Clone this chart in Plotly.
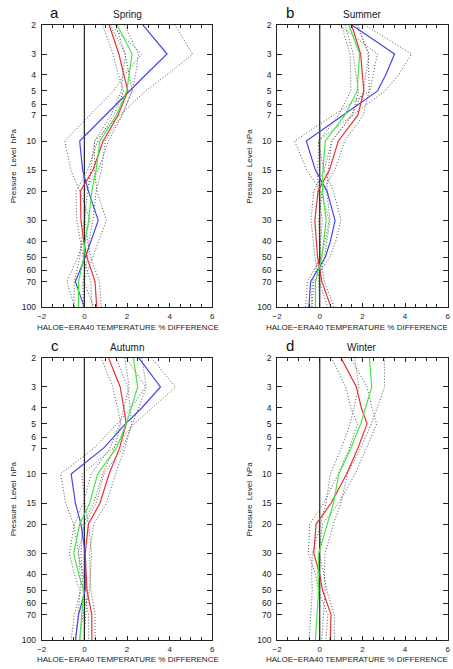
import plotly.graph_objects as go

levels = [2, 3, 4, 5, 7, 10, 15, 20, 30, 40, 50, 70, 100]
x_ticks = [-2, 0, 2, 4, 6]
y_ticks = [2, 3, 4, 5, 6, 7, 10, 15, 20, 30, 40, 50, 60, 70, 100]

# Spring
spring_blue = [2.73, 3.88, 2.88, 2.12, 0.95, -0.22, -0.08, 0.19, 0.65, 0.30, 0.04, -0.42, 0.00]
spring_red = [1.16, 1.62, 1.85, 2.04, 1.58, 0.88, 0.40, -0.19, -0.16, -0.03, 0.12, 0.50, 0.58]
spring_green = [1.53, 2.24, 2.10, 1.99, 1.50, 0.73, 0.55, 0.35, 0.20, 0.04, -0.03, -0.27, -0.27]
spring_blue_sd = [1.5, 1.2, 1.0, 0.75, 0.7, 0.7, 0.55, 0.4, 0.38, 0.35, 0.35, 0.4, 0.45]
spring_red_sd = [0.3, 0.28, 0.25, 0.2, 0.2, 0.25, 0.25, 0.2, 0.2, 0.18, 0.18, 0.2, 0.22]
spring_green_sd = [0.35, 0.3, 0.3, 0.25, 0.25, 0.25, 0.25, 0.2, 0.2, 0.18, 0.18, 0.2, 0.22]

# Summer
summer_blue = [1.49, 3.51, 3.10, 2.71, 1.09, -0.63, -0.20, 0.34, 0.72, 0.50, 0.26, -0.43, -0.51]
summer_red = [1.49, 1.92, 2.00, 2.07, 1.79, 0.87, 0.45, -0.08, -0.23, -0.15, -0.10, 0.10, 0.53]
summer_green = [1.36, 1.87, 1.80, 1.76, 1.18, 0.26, 0.15, 0.13, 0.30, 0.20, 0.10, -0.20, -0.20]
summer_blue_sd = [0.6, 0.8, 0.6, 0.35, 0.45, 0.55, 0.4, 0.3, 0.28, 0.25, 0.2, 0.15, 0.15]
summer_red_sd = [0.3, 0.35, 0.3, 0.25, 0.25, 0.3, 0.25, 0.2, 0.18, 0.15, 0.12, 0.12, 0.15]
summer_green_sd = [0.35, 0.45, 0.35, 0.3, 0.3, 0.3, 0.25, 0.2, 0.18, 0.15, 0.12, 0.15, 0.2]

# Autumn
autumn_blue = [2.54, 3.57, 2.70, 1.93, 0.90, -0.62, -0.42, -0.16, 0.04, 0.04, 0.04, -0.27, -0.42]
autumn_red = [1.13, 1.68, 1.85, 1.96, 1.65, 1.16, 0.73, 0.19, 0.04, 0.08, 0.12, 0.35, 0.35]
autumn_green = [2.30, 2.50, 2.20, 1.96, 1.50, 0.62, 0.25, -0.22, -0.50, -0.27, -0.03, -0.11, -0.22]
autumn_blue_sd = [0.6, 0.7, 0.5, 0.4, 0.45, 0.5, 0.45, 0.35, 0.3, 0.25, 0.2, 0.2, 0.2]
autumn_red_sd = [0.35, 0.35, 0.3, 0.25, 0.25, 0.3, 0.3, 0.25, 0.2, 0.18, 0.18, 0.15, 0.15]
autumn_green_sd = [0.4, 0.4, 0.35, 0.3, 0.3, 0.3, 0.3, 0.25, 0.2, 0.2, 0.18, 0.18, 0.2]

# Winter
winter_red = [0.99, 1.72, 1.95, 2.22, 1.79, 1.26, 0.53, -0.17, -0.28, 0.00, 0.13, 0.53, 0.49]
winter_green = [2.33, 2.44, 2.15, 1.92, 1.46, 0.90, 0.64, 0.34, -0.05, -0.08, -0.05, -0.13, -0.20]
winter_red_sd = [0.45, 0.5, 0.5, 0.45, 0.4, 0.4, 0.35, 0.3, 0.25, 0.2, 0.2, 0.15, 0.2]
winter_green_sd = [0.7, 0.6, 0.55, 0.5, 0.45, 0.4, 0.35, 0.3, 0.3, 0.3, 0.3, 0.3, 0.3]

BLUE = "#4646e6"
RED = "#e63232"
GREEN = "#46e646"
DOT = "#555555"

panels = [
    dict(name="Spring", letter="a", series=[(spring_blue, spring_blue_sd, BLUE), (spring_red, spring_red_sd, RED), (spring_green, spring_green_sd, GREEN)]),
    dict(name="Summer", letter="b", series=[(summer_blue, summer_blue_sd, BLUE), (summer_red, summer_red_sd, RED), (summer_green, summer_green_sd, GREEN)]),
    dict(name="Autumn", letter="c", series=[(autumn_blue, autumn_blue_sd, BLUE), (autumn_red, autumn_red_sd, RED), (autumn_green, autumn_green_sd, GREEN)]),
    dict(name="Winter", letter="d", series=[(winter_red, winter_red_sd, RED), (winter_green, winter_green_sd, GREEN)]),
]

W, H = 453, 669
# pixel boxes: (left, right, top, bottom)
boxes = [(37.4, 211.0, 20, 307), (277.0, 450.6, 20, 307), (37.4, 211.0, 358, 645), (277.0, 450.6, 358, 645)]

FONT = "Liberation Sans"
fig = go.Figure()
annotations = []
layout = {}

for i, (p, box) in enumerate(zip(panels, boxes)):
    n = i + 1
    xa = "x" if n == 1 else f"x{n}"
    ya = "y" if n == 1 else f"y{n}"
    L, R, T, B = box
    # dotted envelopes
    for vals, sd, col in p["series"]:
        for sgn in (-1, 1):
            fig.add_trace(go.Scatter(x=[v + sgn * s for v, s in zip(vals, sd)], y=levels, mode="lines",
                                     line=dict(color=DOT, width=1, dash="1px,2px"), xaxis=xa, yaxis=ya,
                                     showlegend=False, hoverinfo="skip"))
    # zero line
    fig.add_trace(go.Scatter(x=[0, 0], y=[levels[0], levels[-1]], mode="lines",
                             line=dict(color="#222222", width=1.2), xaxis=xa, yaxis=ya,
                             showlegend=False, hoverinfo="skip"))
    for vals, sd, col in p["series"]:
        fig.add_trace(go.Scatter(x=vals, y=levels, mode="lines", line=dict(color=col, width=1.2),
                                 xaxis=xa, yaxis=ya, showlegend=False))

    axis_common = dict(showline=True, linecolor="#222222", linewidth=1, mirror="allticks",
                       ticks="inside", tickcolor="#222222", showgrid=False, zeroline=False,
                       tickfont=dict(family=FONT, size=8.5, color="#222222"))
    layout["xaxis" if n == 1 else f"xaxis{n}"] = dict(
        axis_common, domain=[L / W, R / W], anchor=ya, range=[-2, 6], tickvals=x_ticks,
        ticklen=4, ticklabelstandoff=1, tickfont=dict(family=FONT, size=8, color="#222222"),
        minor=dict(dtick=0.5, ticks="inside", ticklen=3, tickcolor="#222222"))
    layout["yaxis" if n == 1 else f"yaxis{n}"] = dict(
        axis_common, domain=[1 - B / H, 1 - T / H], anchor=xa, type="log",
        range=[2, 0.30103], tickvals=y_ticks, ticktext=[str(v) for v in y_ticks],
        ticklen=5, ticklabelstandoff=3)

    cx = (L + R) / 2
    annotations.append(dict(text=p["name"], x=cx / W, y=1 - (T - 10) / H, xref="paper", yref="paper",
                            showarrow=False, xanchor="center", yanchor="middle",
                            font=dict(family=FONT, size=10, color="#222222")))
    annotations.append(dict(text=p["letter"], x=(L + 13) / W, y=1 - (T - 12) / H, xref="paper", yref="paper",
                            showarrow=False, xanchor="center", yanchor="middle",
                            font=dict(family=FONT, size=15, color="#111111")))
    if n % 2 == 1:
        tx, xanc = (L - 6) / W, "left"
    else:
        tx, xanc = 452 / W, "right"
    ty = B + 20 if n <= 2 else B + 19
    annotations.append(dict(text="HALOE\u2212ERA40 TEMPERATURE % DIFFERENCE", x=tx,
                            y=1 - ty / H, xref="paper", yref="paper", showarrow=False,
                            xanchor=xanc, yanchor="middle", borderpad=0,
                            font=dict(family=FONT, size=8, color="#222222")))
    annotations.append(dict(text="Pressure  Level  hPa", x=(L - 29) / W, y=1 - ((T + B) / 2) / H,
                            xref="paper", yref="paper", showarrow=False, textangle=-90,
                            xanchor="center", yanchor="middle",
                            font=dict(family=FONT, size=8, color="#222222")))

fig.update_layout(width=W, height=H, margin=dict(l=0, r=0, t=0, b=0), paper_bgcolor="white",
                  plot_bgcolor="white", showlegend=False, annotations=annotations, **layout)
fig.write_html("out.html")
